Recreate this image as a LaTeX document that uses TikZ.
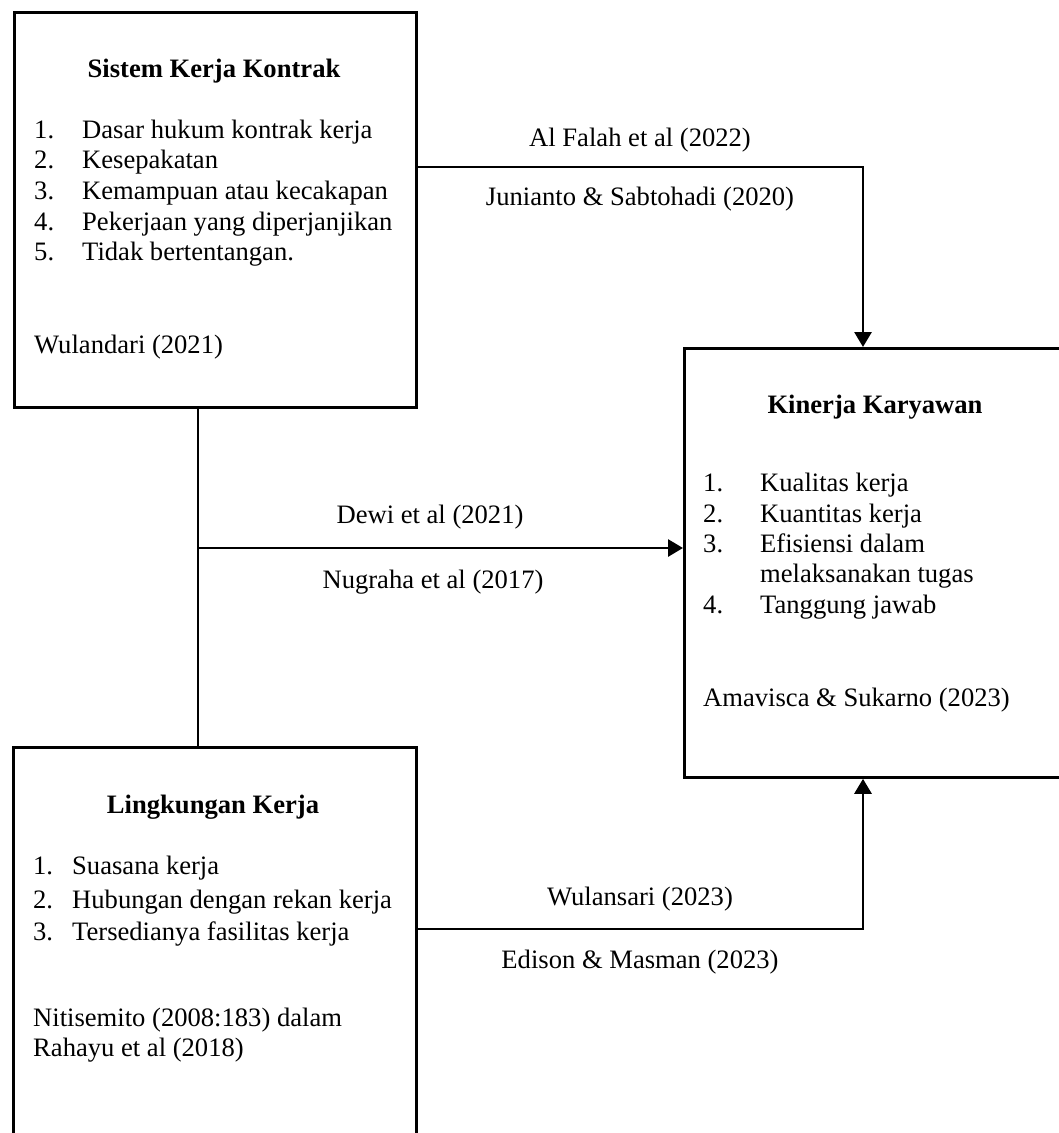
\documentclass[tikz,border=0pt]{standalone}
\usepackage{fontspec}
\setmainfont{Liberation Serif}
\usetikzlibrary{arrows.meta}
\begin{document}
\begin{tikzpicture}[x=1pt,y=-1pt,
  box/.style={draw,line width=2.8pt,anchor=north west,inner sep=0pt},
  txt/.style={anchor=base west,inner sep=0pt,font=\fontsize{26.6}{30}\selectfont},
  ttl/.style={anchor=base,inner sep=0pt,font=\fontsize{26.6}{30}\selectfont\bfseries},
  lbl/.style={anchor=base,inner sep=0pt,font=\fontsize{26.6}{30}\selectfont},
  conn/.style={line width=2.8pt},
  arr/.style={line width=2.8pt,-{Triangle[width=17pt,length=15pt]}}]
\useasboundingbox (0,0) rectangle (1059,1133);
% boxes
\node[box,minimum width=402pt,minimum height=395pt] (b1) at (13,11) {};
\node[box,minimum width=400pt,minimum height=429pt] (b2) at (683,347) {};
\node[box,minimum width=403pt,minimum height=400pt] (b3) at (12,746) {};
% box 1 text
\node[ttl] (t1) at (214,77) {Sistem Kerja Kontrak};
\node[txt] (n11) at (34,138) {1.}; \node[txt] (i11) at (82,138) {Dasar hukum kontrak kerja};
\node[txt] (n12) at (34,168) {2.}; \node[txt] (i12) at (82,168) {Kesepakatan};
\node[txt] (n13) at (34,199) {3.}; \node[txt] (i13) at (82,199) {Kemampuan atau kecakapan};
\node[txt] (n14) at (34,230) {4.}; \node[txt] (i14) at (82,230) {Pekerjaan yang diperjanjikan};
\node[txt] (n15) at (34,260) {5.}; \node[txt] (i15) at (82,260) {Tidak bertentangan.};
\node[txt] (r1) at (34,353) {Wulandari (2021)};
% box 2 text
\node[ttl] (t2) at (875,413) {Kinerja Karyawan};
\node[txt] (n21) at (703,491) {1.}; \node[txt] (i21) at (760,491) {Kualitas kerja};
\node[txt] (n22) at (703,522) {2.}; \node[txt] (i22) at (760,522) {Kuantitas kerja};
\node[txt] (n23) at (703,552) {3.}; \node[txt] (i23) at (760,552) {Efisiensi dalam};
\node[txt] (i23b) at (760,582) {melaksanakan tugas};
\node[txt] (n24) at (703,613) {4.}; \node[txt] (i24) at (760,613) {Tanggung jawab};
\node[txt] (r2) at (703,706) {Amavisca \& Sukarno (2023)};
% box 3 text
\node[ttl] (t3) at (213,813) {Lingkungan Kerja};
\node[txt] (n31) at (33,874) {1.}; \node[txt] (i31) at (72,874) {Suasana kerja};
\node[txt] (n32) at (33,908) {2.}; \node[txt] (i32) at (72,908) {Hubungan dengan rekan kerja};
\node[txt] (n33) at (33,940) {3.}; \node[txt] (i33) at (72,940) {Tersedianya fasilitas kerja};
\node[txt] (r3a) at (33,1026) {Nitisemito (2008:183) dalam};
\node[txt] (r3b) at (33,1056) {Rahayu et al (2018)};
% connectors
\coordinate (j1) at (198,548);
\coordinate (c1) at (863,167);
\coordinate (c3) at (863,929);
\draw[conn] (b1.south west -| j1) -- (j1) -- (b3.north west -| j1);
\draw[arr] (b1.east |- c1) -- (c1) -- (b2.north west -| c1);
\draw[arr] (j1) -- (b2.west |- j1);
\draw[arr] (b3.east |- c3) -- (c3) -- (b2.south west -| c3);
% connector labels
\node[lbl] (l1) at (640,146) {Al Falah et al (2022)};
\node[lbl] (l2) at (640,205) {Junianto \& Sabtohadi (2020)};
\node[lbl] (l3) at (430,523) {Dewi et al (2021)};
\node[lbl] (l4) at (433,588) {Nugraha et al (2017)};
\node[lbl] (l5) at (640,905) {Wulansari (2023)};
\node[lbl] (l6) at (640,968) {Edison \& Masman (2023)};
\end{tikzpicture}
\end{document}
